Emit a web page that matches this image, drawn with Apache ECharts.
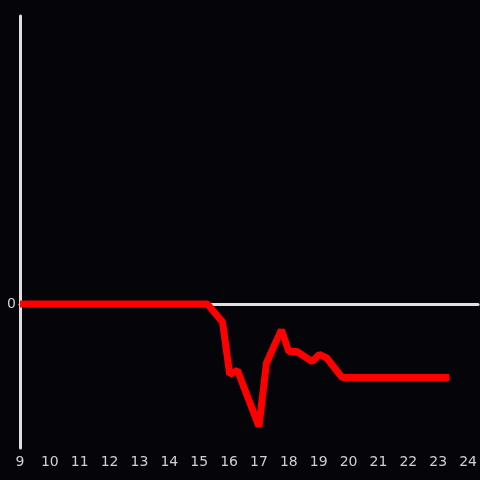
<!DOCTYPE html>
<html>
<head>
<meta charset="utf-8">
<script src="https://cdn.jsdelivr.net/npm/echarts@6/dist/echarts.min.js"></script>
<style>
html,body{margin:0;padding:0;background:#050408;}
#chart{width:480px;height:480px;}
</style>
</head>
<body>
<div id="chart"></div>
<script>
// hours and values
var hours = [9, 15.27, 15.78, 16.02, 16.28, 17.0, 17.25, 17.75, 18.0, 18.27, 18.78, 19.02, 19.27, 19.78, 23.37];
var values = [0, 0, -0.125, -0.49, -0.46, -0.85, -0.41, -0.18, -0.33, -0.33, -0.4, -0.35, -0.375, -0.51, -0.51];
var xTicks = [9, 10, 11, 12, 13, 14, 15, 16, 17, 18, 19, 20, 21, 22, 23, 24];

var points = [];
for (var i = 0; i < hours.length; i++) {
    points.push([hours[i], values[i]]);
}

var myChart = echarts.init(document.getElementById('chart'));

var option = {
    backgroundColor: '#050408',
    animation: false,
    grid: {
        left: 20,
        right: 0,
        top: 16,
        bottom: 32
    },
    xAxis: [
        {
            type: 'value',
            min: 9,
            max: 24.333,
            interval: 1,
            axisLine: {show: false, onZero: false},
            axisTick: {show: false},
            splitLine: {show: false},
            axisLabel: {
                color: '#d0d0d0',
                fontSize: 14,
                fontFamily: 'DejaVu Sans',
                margin: 7,
                showMaxLabel: false,
                formatter: function (v) {
                    return xTicks.indexOf(v) >= 0 ? String(v) : '';
                }
            }
        },
        {
            type: 'value',
            position: 'bottom',
            min: 9,
            max: 24.333,
            axisLine: {onZero: true, lineStyle: {color: '#e0e0e0', width: 3}},
            axisTick: {show: false},
            axisLabel: {show: false},
            splitLine: {show: false}
        }
    ],
    yAxis: {
        type: 'value',
        min: -1,
        max: 2,
        interval: 1,
        axisLine: {show: true, onZero: false, lineStyle: {color: '#e0e0e0', width: 3}},
        axisTick: {show: false},
        splitLine: {show: false},
        axisLabel: {
            color: '#d0d0d0',
            fontSize: 14,
            fontFamily: 'DejaVu Sans',
            margin: 4,
            formatter: function (v) {
                return v === 0 ? '0' : '';
            }
        }
    },
    series: [
        {
            type: 'line',
            xAxisIndex: 0,
            data: points,
            showSymbol: false,
            z: 5,
            lineStyle: {color: '#ff0000', width: 7}
        }
    ]
};

myChart.setOption(option);
</script>
</body>
</html>
